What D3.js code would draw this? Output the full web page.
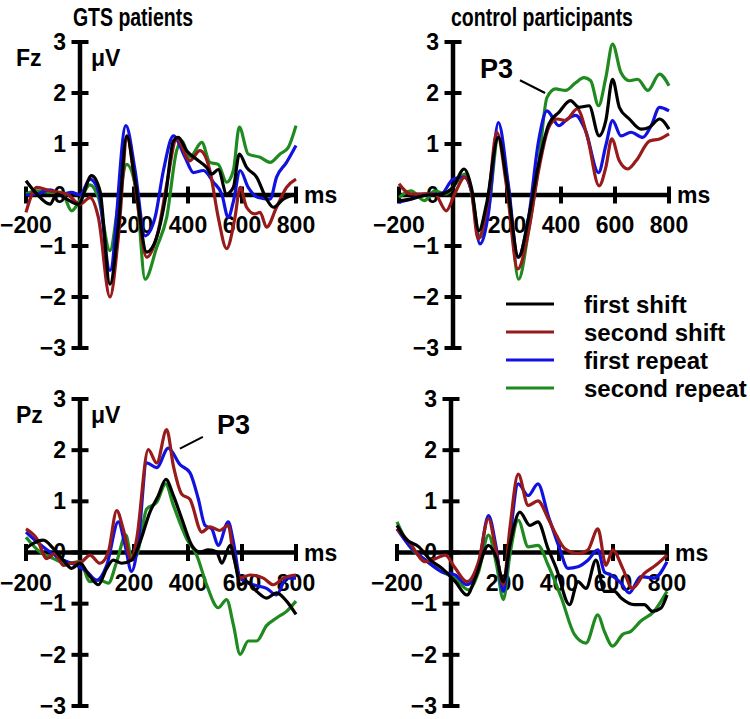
<!DOCTYPE html>
<html>
<head>
<meta charset="utf-8">
<script src="https://cdn.jsdelivr.net/npm/d3@7"></script>
<style>
  html, body { margin: 0; padding: 0; background: #fff; }
  svg { display: block; font-family: "Liberation Sans", Arial, sans-serif; font-weight: bold; }
</style>
</head>
<body>
<svg id="chart" width="750" height="719"></svg>
<script>
// ---------- DATA: [time ms, amplitude µV] ----------
const xTicks = [-200, 200, 400, 600, 800];
const yTicks = [-3, -2, -1, 0, 1, 2, 3];
const conditions = ["first shift", "second shift", "first repeat", "second repeat"];
const groups = ["GTS patients", "control participants"];
const electrodes = ["Fz", "Pz"];

// Fz, GTS patients
const fzGtsFirstShift = [[-200,0.28],[-160,0.02],[-111,-0.18],[-86,0.02],[-49,-0.08],[-6,-0.18],[43,0.38],[74,0.08],[111,-1.75],[142,-0.6],[173,1.16],[204,0.28],[247,-1.12],[284,-0.83],[315,-0.1],[346,1.06],[364,1.13],[395,0.87],[432,0.7],[469,0.54],[488,0.41],[512,0.5],[543,0.02],[568,0.15],[590,0.8],[617,0.54],[654,0.35],[691,-0.08],[716,-0.24],[753,-0.08],[800,0.02]];
const fzGtsSecondShift = [[-200,-0.34],[-160,0.15],[-111,0.08],[-49,0.02],[0,-0.18],[37,-0.05],[68,-0.44],[111,-2.0],[142,-0.83],[175,1.13],[204,0.2],[247,-1.22],[290,-0.7],[321,0.2],[358,1.1],[407,0.67],[444,0.87],[481,0.48],[512,-0.44],[543,-1.05],[574,-0.44],[593,0.15],[617,-0.24],[648,-0.37],[667,-0.34],[691,-0.63],[728,-0.24],[765,0.15],[800,0.31]];
const fzGtsFirstRepeat = [[-200,0],[-160,0.02],[-111,0.1],[-68,0.02],[-31,0.05],[0,0],[37,0.31],[68,0.08],[111,-1.48],[170,1.36],[204,0.48],[241,-0.8],[278,-0.44],[309,0.48],[346,1.16],[389,0.74],[420,0.44],[457,0.48],[494,0.25],[525,0.02],[549,-0.44],[568,-0.13],[593,0.48],[623,0.15],[660,-0.05],[704,-0.08],[728,0.35],[765,0.64],[800,0.97]];
const fzGtsSecondRepeat = [[-200,0.02],[-160,0.08],[-111,0.05],[-68,0.05],[-31,-0.31],[0,-0.1],[37,0.2],[68,-0.05],[111,-1.09],[142,-0.18],[173,0.6],[210,0.02],[241,-1.65],[284,-1.03],[321,-0.44],[358,0.87],[377,1.06],[407,0.74],[451,1.03],[481,0.64],[512,0.6],[543,0.25],[568,0.48],[590,1.33],[623,0.8],[667,0.74],[704,0.64],[740,0.8],[771,0.93],[800,1.36]];

// Fz, control participants
const fzCtlFirstShift = [[-200,-0.11],[-156,-0.08],[-106,-0.01],[-44,0.02],[0,0.15],[41,0.51],[68,0.15],[96,-0.7],[124,-0.18],[168,1.13],[199,0.28],[243,-1.22],[280,-0.44],[317,0.6],[355,1.39],[392,1.62],[435,1.85],[467,1.72],[504,1.75],[541,1.16],[566,1.46],[591,2.27],[616,1.72],[653,1.49],[697,1.29],[728,1.33],[765,1.49],[800,1.29]];
const fzCtlSecondShift = [[-200,0.22],[-156,0.02],[-106,0.02],[-68,0.02],[-25,-0.31],[6,0.02],[44,0.35],[68,0.08],[93,-0.86],[131,-0.05],[162,1.23],[199,0.15],[240,-1.45],[280,-0.7],[317,0.48],[355,1.33],[386,1.49],[417,1.46],[460,1.69],[498,1.13],[541,0.18],[566,0.54],[588,1.1],[616,0.67],[647,0.51],[678,0.67],[728,1.06],[765,1.1],[800,1.2]];
const fzCtlFirstRepeat = [[-200,-0.14],[-156,-0.08],[-106,0.02],[-44,0.02],[0,0.31],[41,0.35],[68,0.08],[100,-0.96],[131,-0.37],[168,1.42],[205,0.2],[240,-1.22],[280,-0.44],[317,1.06],[348,1.65],[392,1.36],[423,1.49],[454,1.56],[491,1.26],[539,0.44],[566,0.97],[591,1.46],[622,1.16],[659,1.23],[703,1.13],[734,1.36],[765,1.72],[800,1.65]];
const fzCtlSecondRepeat = [[-200,-0.05],[-156,0.08],[-106,-0.11],[-68,0.08],[-25,0.02],[6,0.2],[44,0.41],[68,0.08],[100,-0.83],[131,-0.31],[168,1.13],[205,0.15],[243,-1.65],[280,-0.7],[317,0.6],[348,1.91],[380,2.08],[417,2.05],[454,2.2],[485,2.3],[510,2.24],[539,1.75],[566,2.3],[591,2.96],[622,2.4],[653,2.24],[684,2.27],[722,2.05],[765,2.37],[800,2.14]];

// Pz, GTS patients
const pzGtsFirstShift = [[-200,0.08],[-173,0.18],[-136,0.24],[-99,0.08],[-62,-0.15],[-31,-0.31],[0,-0.21],[37,-0.47],[68,-0.63],[99,-0.31],[123,-0.15],[154,-0.21],[191,-0.15],[222,0.2],[259,0.79],[290,1.11],[318,1.43],[346,1.11],[377,0.66],[414,0.14],[444,0.01],[475,0.05],[506,0.01],[525,-0.21],[556,0.14],[574,-0.18],[593,-0.63],[617,-0.57],[654,-0.76],[691,-0.89],[728,-0.79],[765,-0.95],[800,-1.21]];
const pzGtsSecondShift = [[-200,0.46],[-160,0.27],[-123,-0.12],[-93,-0.02],[-62,-0.25],[-31,-0.21],[6,-0.18],[37,-0.05],[74,-0.21],[105,0.01],[136,0.82],[160,0.46],[191,-0.15],[210,0.27],[253,2.01],[284,1.75],[321,2.4],[346,1.69],[377,1.14],[407,1.04],[451,0.4],[481,0.5],[518,0.43],[549,0.53],[568,-0.05],[593,-0.5],[630,-0.44],[679,-0.5],[716,-0.63],[753,-0.5],[800,-0.44]];
const pzGtsFirstRepeat = [[-200,0.4],[-160,0.21],[-111,0.01],[-62,-0.15],[-12,-0.25],[25,-0.37],[62,-0.54],[99,-0.25],[142,0.6],[167,0.14],[191,-0.37],[216,0.21],[247,1.75],[284,1.66],[327,2.04],[370,1.72],[407,1.56],[438,1.05],[463,0.53],[488,0.46],[512,0.14],[549,0.6],[568,0.21],[593,-0.5],[641,-0.63],[691,-0.7],[728,-0.83],[765,-0.5],[800,-0.5]];
const pzGtsSecondRepeat = [[-200,0.3],[-148,0.01],[-99,-0.12],[-49,-0.21],[0,-0.18],[37,-0.57],[74,-0.54],[105,-0.6],[136,-0.18],[170,0.34],[191,-0.12],[210,-0.05],[247,0.85],[284,0.98],[317,1.34],[346,0.92],[395,0.27],[432,-0.05],[469,-0.63],[512,-1.08],[543,-0.92],[568,-1.41],[593,-1.99],[623,-1.73],[654,-1.73],[691,-1.43],[728,-1.28],[765,-1.15],[800,-0.95]];

// Pz, control participants
const pzCtlFirstShift = [[-200,0.53],[-168,0.27],[-119,0.11],[-76,-0.15],[-33,-0.31],[16,-0.57],[59,-0.83],[90,-0.5],[139,0.14],[169,-0.12],[194,-0.57],[218,0.14],[255,0.79],[292,0.53],[322,0.6],[359,0.08],[390,-0.31],[439,-1.02],[470,-0.57],[500,-0.7],[537,-0.15],[568,-0.76],[605,-0.76],[630,-0.89],[679,-1.02],[716,-1.02],[746,-1.15],[777,-1.09],[800,-0.83]];
const pzCtlSecondShift = [[-200,0.46],[-156,0.21],[-94,-0.18],[-58,-0.12],[-21,-0.05],[16,-0.31],[59,-0.57],[102,-0.18],[139,0.66],[163,0.14],[194,-0.63],[218,0.47],[249,1.53],[286,0.92],[322,1.01],[360,0.66],[390,0.34],[421,0.08],[470,-0.02],[507,0.05],[544,0.46],[574,-0.25],[599,0.05],[636,-0.31],[672,-0.7],[716,-0.41],[758,-0.25],[800,-0.05]];
const pzCtlFirstRepeat = [[-200,0.46],[-156,0.14],[-94,-0.15],[-33,-0.38],[16,-0.44],[59,-0.63],[102,-0.25],[139,0.72],[166,0.14],[194,-0.76],[218,0.27],[249,1.34],[286,1.11],[322,1.34],[360,0.72],[402,0.08],[433,-0.31],[470,-0.28],[507,-0.15],[544,0.05],[568,-0.38],[593,-0.44],[630,-0.6],[660,-0.79],[703,-0.47],[752,-0.5],[800,-0.18]];
const pzCtlSecondRepeat = [[-200,0.6],[-156,0.14],[-94,-0.15],[-33,-0.38],[16,-0.51],[65,-0.73],[102,-0.38],[139,0.34],[169,-0.25],[194,-0.92],[218,-0.05],[249,0.63],[286,0.11],[322,0.14],[360,-0.25],[409,-0.89],[457,-1.6],[500,-1.77],[544,-1.22],[568,-1.54],[599,-1.83],[636,-1.6],[666,-1.54],[703,-1.34],[752,-1.15],[800,-0.76]];

// P3 annotation anchors [time ms, µV]
const p3Fz = { label: [100, 2.29], from: [248, 2.25], to: [341, 2.0] };
const p3Pz = { label: [507, 2.32], from: [455, 2.26], to: [370, 2.03] };

// ---------- LAYOUT / STYLE ----------
const colors = { "first shift": "#000000", "second shift": "#981a1a", "first repeat": "#1212e0", "second repeat": "#1f8a1f" };
const drawOrder = ["second repeat", "first repeat", "second shift", "first shift"];

const panels = [
  { electrode: "Fz", x0: 26,  x1: 296, yTop: 42,  yBot: 348, data: {"first shift": fzGtsFirstShift, "second shift": fzGtsSecondShift, "first repeat": fzGtsFirstRepeat, "second repeat": fzGtsSecondRepeat} },
  { electrode: null, x0: 399, x1: 669, yTop: 42,  yBot: 348, data: {"first shift": fzCtlFirstShift, "second shift": fzCtlSecondShift, "first repeat": fzCtlFirstRepeat, "second repeat": fzCtlSecondRepeat} },
  { electrode: "Pz", x0: 26,  x1: 296, yTop: 399, yBot: 706, data: {"first shift": pzGtsFirstShift, "second shift": pzGtsSecondShift, "first repeat": pzGtsFirstRepeat, "second repeat": pzGtsSecondRepeat} },
  { electrode: null, x0: 397, x1: 667, yTop: 399, yBot: 706, data: {"first shift": pzCtlFirstShift, "second shift": pzCtlSecondShift, "first repeat": pzCtlFirstRepeat, "second repeat": pzCtlSecondRepeat} }
];

const svg = d3.select("#chart");
const fmt = v => (v < 0 ? "\u2212" + Math.abs(v) : String(v));
const FS = 23;

// titles (condensed bold look)
[[133, groups[0]], [542, groups[1]]].forEach(([cx, t]) => {
  svg.append("text").attr("transform", `translate(${cx},26) scale(0.75,1)`).attr("text-anchor", "middle").attr("font-size", 26).text(t);
});

const AX_W = 4.5, TICK = 8.5;

panels.forEach(p => {
  const x = d3.scaleLinear().domain([-200, 800]).range([p.x0, p.x1]);
  const y = d3.scaleLinear().domain([-3, 3]).range([p.yBot, p.yTop]);
  const g = svg.append("g");
  const ax = x(0), ay = y(0);

  // y axis
  g.append("line").attr("x1", ax).attr("x2", ax).attr("y1", y(3)).attr("y2", y(-3)).attr("stroke", "#000").attr("stroke-width", AX_W);
  yTicks.forEach(v => {
    g.append("line").attr("x1", ax - TICK).attr("x2", ax + TICK).attr("y1", y(v)).attr("y2", y(v)).attr("stroke", "#000").attr("stroke-width", 4);
    g.append("text").attr("x", ax - 14).attr("y", y(v)).attr("dy", "0.34em").attr("text-anchor", "end").attr("font-size", FS).text(fmt(v));
  });
  // x axis
  g.append("line").attr("x1", x(-200)).attr("x2", x(800)).attr("y1", ay).attr("y2", ay).attr("stroke", "#000").attr("stroke-width", AX_W);
  xTicks.forEach(t => {
    g.append("line").attr("x1", x(t)).attr("x2", x(t)).attr("y1", ay - TICK).attr("y2", ay + TICK).attr("stroke", "#000").attr("stroke-width", 4);
    g.append("text").attr("x", x(t)).attr("y", ay + 38).attr("text-anchor", "middle").attr("font-size", FS).text(fmt(t));
  });
  g.append("text").attr("x", x(800) + 8).attr("y", ay + 8).attr("font-size", FS).text("ms");

  if (p.electrode) {
    g.append("text").attr("x", 16).attr("y", y(3) + 24).attr("font-size", FS).text(p.electrode);
    g.append("text").attr("x", ax + 11).attr("y", y(3) + 24).attr("font-size", FS).text("\u03bcV");
  }

  const line = d3.line().x(d => x(d[0])).y(d => y(d[1])).curve(d3.curveMonotoneX);
  drawOrder.forEach(c => {
    g.append("path").attr("d", line(p.data[c])).attr("fill", "none").attr("stroke", colors[c]).attr("stroke-width", 3.2).attr("stroke-linejoin", "round");
  });
  p.xs = x; p.ys = y;
});

// P3 annotations
[[panels[1], p3Fz], [panels[2], p3Pz]].forEach(([p, a]) => {
  svg.append("text").attr("x", p.xs(a.label[0])).attr("y", p.ys(a.label[1])).attr("font-size", 27).text("P3");
  svg.append("line").attr("x1", p.xs(a.from[0])).attr("y1", p.ys(a.from[1])).attr("x2", p.xs(a.to[0])).attr("y2", p.ys(a.to[1])).attr("stroke", "#000").attr("stroke-width", 2);
});

// legend
const legend = svg.append("g");
conditions.forEach((c, i) => {
  const ly = 304 + i * 28;
  legend.append("line").attr("x1", 506).attr("x2", 554).attr("y1", ly).attr("y2", ly).attr("stroke", colors[c]).attr("stroke-width", 3.2);
  legend.append("text").attr("x", 584).attr("y", ly).attr("dy", "0.36em").attr("font-size", 24).text(c);
});
</script>
</body>
</html>
